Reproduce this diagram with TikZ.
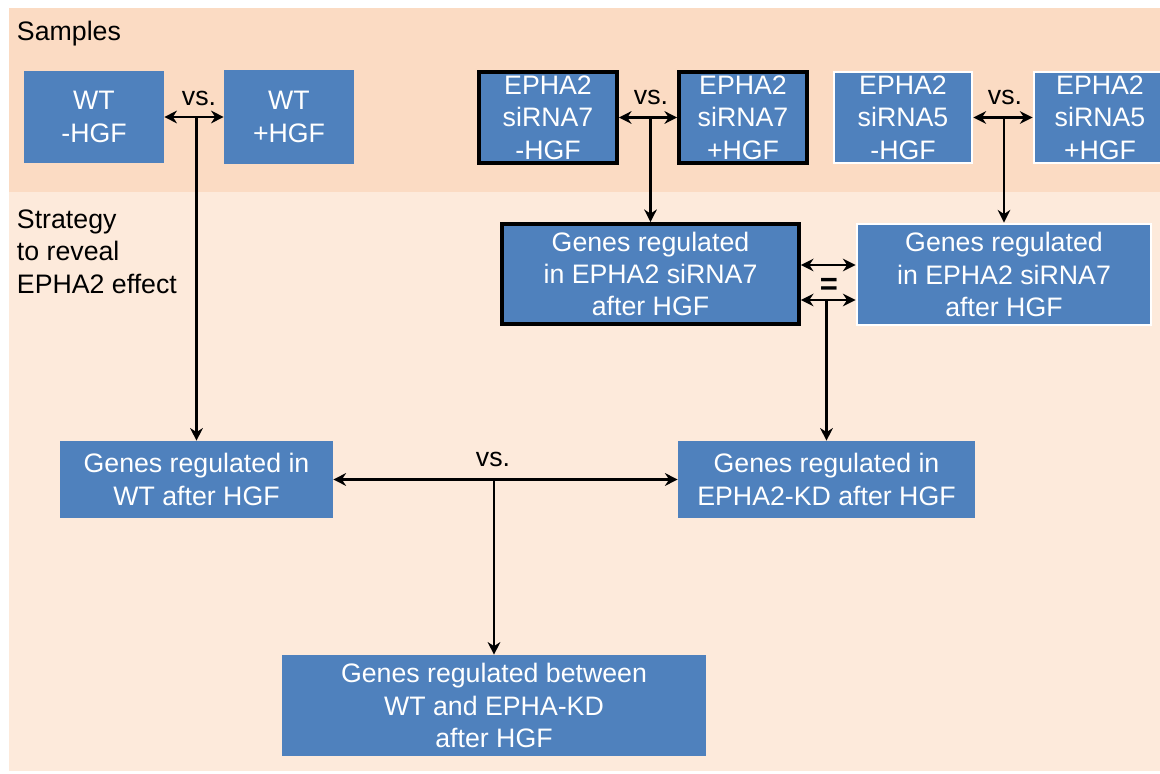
\documentclass[tikz,border=0pt]{standalone}
\usepackage{fontspec}
\setmainfont{Liberation Sans}
\usetikzlibrary{arrows.meta}
\definecolor{bandtop}{HTML}{FBDBC3}
\definecolor{bandlow}{HTML}{FDEADB}
\definecolor{boxblue}{HTML}{4F81BD}
\begin{document}
\begin{tikzpicture}[x=0.025cm,y=-0.025cm,
    gbox/.style={fill=boxblue, text=white, align=center, inner sep=0pt,
      font=\fontsize{19}{23}\selectfont},
    darkbox/.style={gbox, draw=black, line width=2.6pt},
    lightbox/.style={gbox, draw=white, line width=2pt},
    lab/.style={font=\fontsize{19}{23}\selectfont, align=left},
    link/.style={line width=2.1pt, >={Stealth[length=9pt,width=9pt]}}]
  \clip (0,0) rectangle (1160,774);
  \fill[white] (0,0) rectangle (1160,774);
  \fill[bandtop] (9,8) rectangle (1160,192);
  \fill[bandlow] (9,192) rectangle (1160,771);

  \node[lab, anchor=west] (samples) at (12,34) {Samples};
  \node[lab, anchor=north west] (strategy) at (12,205) {Strategy\\to reveal\\EPHA2 effect};

  \node[gbox, minimum width=3.5cm, minimum height=2.3cm] (wtm) at (94,117) {WT\\-HGF};
  \node[gbox, minimum width=3.25cm, minimum height=2.35cm] (wtp) at (289,117) {WT\\+HGF};
  \node[darkbox, minimum width=3.45cm, minimum height=2.275cm] (s7m) at (548,117.5) {EPHA2\\siRNA7\\-HGF};
  \node[darkbox, minimum width=3.2cm, minimum height=2.275cm] (s7p) at (743,117.5) {EPHA2\\siRNA7\\+HGF};
  \node[lightbox, minimum width=3.45cm, minimum height=2.275cm] (s5m) at (903,117.5) {EPHA2\\siRNA5\\-HGF};
  \node[lightbox, minimum width=3.3cm, minimum height=2.275cm] (s5p) at (1100,117.5) {EPHA2\\siRNA5\\+HGF};

  \node[darkbox, minimum width=7.425cm, minimum height=2.5cm] (g7) at (650.5,274) {Genes regulated\\in EPHA2 siRNA7\\after HGF};
  \node[lightbox, minimum width=7.35cm, minimum height=2.525cm] (g5) at (1004,274.5) {Genes regulated\\in EPHA2 siRNA7\\after HGF};
  \node[gbox, minimum width=6.825cm, minimum height=1.925cm] (gwt) at (196.5,479.5) {Genes regulated in\\WT after HGF};
  \node[gbox, minimum width=7.425cm, minimum height=1.925cm] (gkd) at (826.5,479.5) {Genes regulated in\\EPHA2-KD after HGF};
  \node[gbox, minimum width=10.6cm, minimum height=2.525cm] (gbt) at (494,705.5) {Genes regulated between\\WT and EPHA-KD\\after HGF};

  \foreach \nm/\x/\y in {vsa/199/98, vsb/651/97, vsc/1005/97, vsd/493/459} {
    \node[lab] (\nm) at (\x,\y) {vs.};
  }
  \node[font=\bfseries\fontsize{22}{24}\selectfont] (eq) at (829,286) {=};

  \draw[link, <->] (wtm.east) -- (wtp.west);
  \draw[link, ->] (gwt.north |- wtm.east) -- (gwt.north);
  \draw[link, <->] (s7m.east) -- (s7p.west);
  \draw[link, ->] (g7.north |- s7m.east) -- (g7.north);
  \draw[link, <->] (s5m.east) -- (s5p.west);
  \draw[link, ->] (g5.north |- s5m.east) -- (g5.north);
  \draw[link, <->] (g7.east |- 0,265) -- (g5.west |- 0,265);
  \draw[link, <->] (g7.east |- 0,300) -- (g5.west |- 0,300);
  \draw[link, ->] (gkd.north |- 0,300) -- (gkd.north);
  \draw[link, <->] (gwt.east) -- (gkd.west);
  \draw[link, ->] (gbt.north |- gwt.east) -- (gbt.north);
\end{tikzpicture}
\end{document}
